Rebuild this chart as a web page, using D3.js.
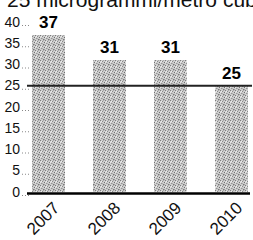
<!DOCTYPE html>
<html>
<head>
<meta charset="utf-8">
<script src="https://cdn.jsdelivr.net/npm/d3@7"></script>
<style>
  html, body { margin: 0; padding: 0; background: #fff; }
  svg { display: block; }
  text { font-family: "Liberation Sans", Arial, sans-serif; }
</style>
</head>
<body>
<svg id="chart" width="253" height="240"></svg>
<script>
const years = ["2007", "2008", "2009", "2010"];
const values = [37, 31, 31, 25];
const yTicks = [0, 5, 10, 15, 20, 25, 30, 35, 40];
const limitValue = [25];
const titleText = "25 microgrammi/metro cubo";

const svg = d3.select("#chart");

// stipple pattern for bars
const defs = svg.append("defs");
const pat = defs.append("pattern").attr("id", "stipple")
  .attr("patternUnits", "userSpaceOnUse").attr("width", 5).attr("height", 5);
pat.append("rect").attr("width", 5).attr("height", 5).attr("fill", "#cdcdcd");
[[0,0,"#7c7c7c"],[2,1,"#8a8a8a"],[4,2,"#6e6e6e"],[1,3,"#949494"],[3,4,"#7a7a7a"],[3,0,"#a8a8a8"],[0,2,"#e6e6e6"],[2,3,"#b0b0b0"],[1,1,"#eee"],[4,4,"#a0a0a0"]]
  .forEach(([x,y,c]) => pat.append("rect").attr("x", x).attr("y", y).attr("width", 1).attr("height", 1).attr("fill", c));

const x = d3.scaleBand().domain(years).range([32, 248]).paddingInner(0.459).paddingOuter(0);
const y = d3.scaleLinear().domain([0, 40]).range([192, 22]);

// title (partially clipped at the top, as in the reference)
svg.append("text").attr("x", 7).attr("y", 7)
  .attr("font-size", 21).attr("fill", "#111").text(titleText);

// y axis
const yAxis = svg.append("g").attr("transform", "translate(31,0)")
  .call(d3.axisLeft(y).tickValues(yTicks).tickSize(10).tickPadding(1).tickFormat(d3.format("d")));
yAxis.select(".domain").remove();
yAxis.selectAll(".tick line")
  .attr("y1", 3).attr("y2", 3).attr("x1", -9).attr("x2", -1)
  .attr("stroke", "#888").attr("stroke-dasharray", "1,2");
yAxis.selectAll(".tick text")
  .attr("font-size", 14).attr("font-family", "'Liberation Sans', Arial, sans-serif")
  .attr("fill", "#111").attr("dy", "0.3em");

// bars
svg.append("g").selectAll("rect").data(years).join("rect")
  .attr("x", d => x(d))
  .attr("y", (d, i) => y(values[i]))
  .attr("width", x.bandwidth())
  .attr("height", (d, i) => y(0) - y(values[i]))
  .attr("fill", "url(#stipple)")
  .attr("shape-rendering", "crispEdges");

// limit line
svg.append("g").selectAll("line").data(limitValue).join("line")
  .attr("x1", 27).attr("x2", 252)
  .attr("y1", d => y(d)).attr("y2", d => y(d))
  .attr("stroke", "#222").attr("stroke-width", 2);

// baseline
svg.append("line").attr("x1", 27).attr("x2", 250)
  .attr("y1", y(0) + 1.5).attr("y2", y(0) + 1.5)
  .attr("stroke", "#000").attr("stroke-width", 2.5);

// value labels
svg.append("g").selectAll("text").data(years).join("text")
  .attr("x", d => x(d) + x.bandwidth() / 2)
  .attr("y", (d, i) => y(values[i]) - 7)
  .attr("text-anchor", "middle")
  .attr("font-size", 17).attr("font-weight", "bold").attr("fill", "#000")
  .text((d, i) => values[i]);

// x labels, rotated
svg.append("g").selectAll("text").data(years).join("text")
  .attr("text-anchor", "end")
  .attr("transform", d => `translate(${x(d) + x.bandwidth() / 2 + 12},${209}) rotate(-45)`)
  .attr("font-size", 17).attr("fill", "#111")
  .text(d => d);
</script>
</body>
</html>
